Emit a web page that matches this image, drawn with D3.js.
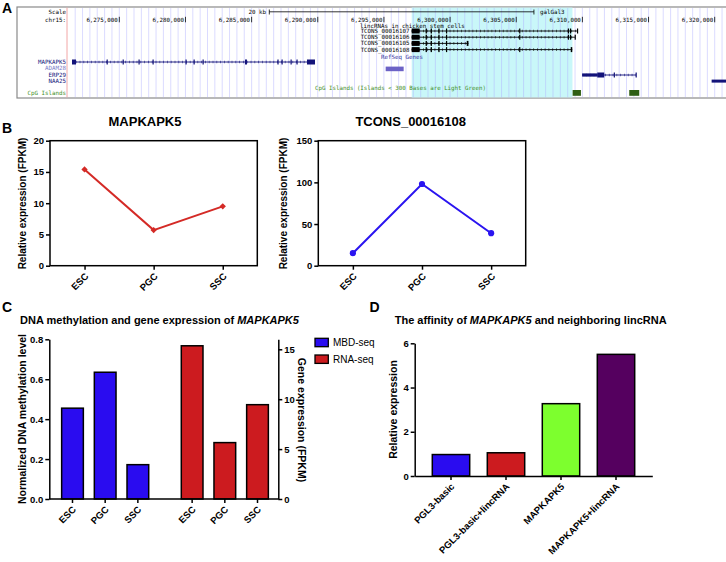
<!DOCTYPE html>
<html>
<head>
<meta charset="utf-8">
<script src="https://cdn.jsdelivr.net/npm/d3@7"></script>
<style>
body { margin: 0; background: #fff; }
svg { display: block; font-family: "Liberation Sans", Arial, sans-serif; }
.axis path, .axis line { stroke: #000; stroke-width: 1.5; }
.axis text { font-size: 9.5px; font-weight: bold; fill: #000; font-family: "Liberation Sans", Arial, sans-serif; }
.ucsc text { font-family: "DejaVu Sans Mono", monospace; font-size: 5.8px; }
.ylab { font-size: 10px; font-weight: bold; text-anchor: middle; }
.ttl { font-weight: bold; }
.letter { font-size: 14px; font-weight: bold; }
</style>
</head>
<body>
<svg id="fig" width="726" height="562"></svg>
<script>
// ---- Panel A: genome browser view (chr15, galGal3) ----
var chromTicks = [6275000, 6280000, 6285000, 6290000, 6295000, 6300000, 6305000, 6310000, 6315000, 6320000];
var highlightRegion = [6297100, 6309250];
var mapkapk5Span = [6271425, 6289790];
var mapkapk5Exons = [[6271425, 6271727], [6274040, 6274110], [6275250, 6275320], [6276450, 6276530],
    [6277510, 6277590], [6280000, 6280080], [6280610, 6280690], [6281290, 6281370], [6284500, 6284650],
    [6286950, 6287030], [6287260, 6287340], [6287940, 6288020], [6288390, 6288470], [6289185, 6289790]];
var lincNames = ["TCONS_00016107", "TCONS_00016106", "TCONS_00016105", "TCONS_00016108"];
var lincStart = 6297097;
var lincEnds = [6309611, 6309437, 6301389, 6309233];
var lincSharedExons = [[6297097, 6297701], [6298150, 6298250], [6298530, 6298630], [6299110, 6299210], [6299690, 6299730]];
var lincTailExons = [
    [[6305220, 6305290], [6308900, 6308980], [6309060, 6309140], [6309590, 6309611]],
    [[6305220, 6305290], [6308900, 6308980], [6309060, 6309140], [6309415, 6309437]],
    [[6301260, 6301389]],
    [[6305220, 6305290], [6309120, 6309233]]
];
var refBox = [6295132, 6296492];
var erp29Span = [6309990, 6314047];
var erp29Utr = [[6309990, 6311124]];
var erp29Cds = [[6311124, 6311652], [6312370, 6312440], [6314020, 6314047]];
var naa25Utr = [[6319768, 6321500]];
var cpgIslands = [[6309263, 6309891], [6313541, 6314296]];

// ---- Panel B: expression across stages ----
var stages = ["ESC", "PGC", "SSC"];
var mapkapk5Fpkm = [15.4, 5.7, 9.5];
var tconsFpkm = [15, 98, 39];

// ---- Panel C: methylation vs expression ----
var assays = ["MBD-seq", "RNA-seq"];
var methylation = [0.455, 0.635, 0.172];
var rnaSeqFpkm = [15.35, 5.65, 9.45];

// ---- Panel D: luciferase constructs ----
var constructs = ["PGL3-basic", "PGL3-basic+lincRNA", "MAPKAPK5", "MAPKAPK5+lincRNA"];
var relExpression = [0.97, 1.05, 3.27, 5.5];

var blue = "#2a0cf0", red = "#cc1b1f";
var constructColors = [blue, red, "#7dff2e", "#55005f"];

var svg = d3.select("#fig");

// ================= A =================
var gx = d3.scaleLinear().domain([6275000, 6320000]).range([119.3, 714.7]);
var A = svg.append("g").attr("class", "ucsc");

A.append("rect").attr("x", 17).attr("y", 7).attr("width", 715).attr("height", 91)
    .attr("fill", "#fff").attr("stroke", "#8a8a8a").attr("stroke-width", 1.2);

A.append("rect")
    .attr("x", gx(highlightRegion[0])).attr("y", 7.6)
    .attr("width", gx(highlightRegion[1]) - gx(highlightRegion[0])).attr("height", 89.8)
    .attr("fill", "#c9f7f9");

// light blue guide lines (9 per 5 kb)
var gStep = 5000 / 9;
var kLo = Math.ceil((gx.invert(68) - 6275000) / gStep);
var kHi = Math.floor((gx.invert(726) - 6275000) / gStep);
A.selectAll(".guide").data(d3.range(kLo, kHi + 1)).enter().append("line")
    .attr("x1", k => gx(6275000 + k * gStep)).attr("x2", k => gx(6275000 + k * gStep))
    .attr("y1", 8).attr("y2", 97.4)
    .attr("stroke", "#b0b0ff").attr("stroke-opacity", 0.45);

A.append("line").attr("x1", 67).attr("x2", 67).attr("y1", 7.6).attr("y2", 97.4)
    .attr("stroke", "#f2a6a6").attr("stroke-width", 1);

// scale bar row
var barX0 = gx(6275000) + 150, barX1 = barX0 + (gx(6295000) - gx(6275000));
A.append("text").attr("x", 66).attr("y", 14.3).attr("text-anchor", "end").text("Scale");
A.append("text").attr("x", 266).attr("y", 14.3).attr("text-anchor", "end").text("20 kb");
A.append("line").attr("x1", barX0).attr("x2", barX1)
    .attr("y1", 11.8).attr("y2", 11.8).attr("stroke", "#000").attr("stroke-width", 0.8);
[barX0, barX1].forEach(function(x) {
    A.append("line").attr("x1", x).attr("x2", x).attr("y1", 9.5).attr("y2", 14.5).attr("stroke", "#000").attr("stroke-width", 0.8);
});
A.append("text").attr("x", 540).attr("y", 14.3).text("galGal3");

// chromosome ruler
A.append("text").attr("x", 66).attr("y", 21.6).attr("text-anchor", "end").text("chr15:");
var tk = A.selectAll(".ctick").data(chromTicks).enter().append("g");
tk.append("text").attr("x", d => gx(d) - 1.5).attr("y", 21.6).attr("text-anchor", "end")
    .text(d => d3.format(",")(d));
tk.append("line").attr("x1", d => gx(d)).attr("x2", d => gx(d)).attr("y1", 16.8).attr("y2", 22.3)
    .attr("stroke", "#000").attr("stroke-width", 0.8);

A.append("text").attr("x", 360).attr("y", 28.3).text("lincRNAs in chicken stem cells");

function drawGene(y, span, thin, thick, color) {
    var g = A.append("g");
    g.append("line").attr("x1", gx(span[0])).attr("x2", gx(span[1])).attr("y1", y).attr("y2", y)
        .attr("stroke", color).attr("stroke-width", 0.9);
    g.append("line").attr("x1", gx(span[0])).attr("x2", gx(span[1])).attr("y1", y).attr("y2", y)
        .attr("stroke", color).attr("stroke-width", 2.6).attr("stroke-dasharray", "0.8,3").attr("stroke-opacity", 0.7);
    g.selectAll(".thin").data(thin).enter().append("rect")
        .attr("x", d => gx(d[0])).attr("width", d => Math.max(1, gx(d[1]) - gx(d[0])))
        .attr("y", y - 1.6).attr("height", 3.2).attr("fill", color);
    g.selectAll(".thick").data(thick).enter().append("rect")
        .attr("x", d => gx(d[0])).attr("width", d => Math.max(1.2, gx(d[1]) - gx(d[0])))
        .attr("y", y - 2.5).attr("height", 5).attr("fill", color);
}

var lincY = [31, 37.2, 43.4, 49.6];
lincNames.forEach(function(name, i) {
    A.append("text").attr("x", 409.5).attr("y", lincY[i] + 2).attr("text-anchor", "end").text(name);
    drawGene(lincY[i], [lincStart, lincEnds[i]], [], lincSharedExons.concat(lincTailExons[i]), "#000");
});

A.append("text").attr("x", 381).attr("y", 59.4).attr("fill", "#3434a0").text("RefSeq Genes");
A.append("rect").attr("x", gx(refBox[0])).attr("y", 66.6).attr("width", gx(refBox[1]) - gx(refBox[0]))
    .attr("height", 4.6).attr("fill", "#6c62c6");

var navy = "#13137a";
A.append("text").attr("x", 66).attr("y", 64.3).attr("text-anchor", "end").attr("fill", navy).text("MAPKAPK5");
A.append("text").attr("x", 66).attr("y", 70.4).attr("text-anchor", "end").attr("fill", "#7a7ac8").text("ADAM28");
A.append("text").attr("x", 66).attr("y", 77).attr("text-anchor", "end").attr("fill", navy).text("ERP29");
A.append("text").attr("x", 66).attr("y", 83.2).attr("text-anchor", "end").attr("fill", navy).text("NAA25");
A.append("text").attr("x", 66).attr("y", 95.3).attr("text-anchor", "end").attr("fill", "#3f8f1f").text("CpG Islands");

drawGene(62, mapkapk5Span, [], mapkapk5Exons, navy);
drawGene(75, erp29Span, erp29Utr, erp29Cds, navy);
A.selectAll(".naa").data(naa25Utr).enter().append("rect")
    .attr("x", d => gx(d[0])).attr("width", d => gx(d[1]) - gx(d[0]))
    .attr("y", 79.6).attr("height", 3).attr("fill", navy);

A.append("text").attr("x", 315).attr("y", 89.8).attr("fill", "#3f8f1f")
    .text("CpG Islands (Islands < 300 Bases are Light Green)");
A.selectAll(".cpg").data(cpgIslands).enter().append("rect")
    .attr("x", d => gx(d[0])).attr("width", d => gx(d[1]) - gx(d[0]))
    .attr("y", 90).attr("height", 5.8).attr("fill", "#2f5f14");

// ================= B =================
function linePanel(x0, x1, yMax, ticks, values, color, diamond, title, titleX, labX) {
    var x = d3.scalePoint().domain(stages).range([x0, x1]).padding(0.5);
    var y = d3.scaleLinear().domain([0, yMax]).range([265.7, 140.7]);
    var g = svg.append("g");

    g.append("g").attr("class", "axis").attr("transform", `translate(${x0},0)`)
        .call(d3.axisLeft(y).tickValues(ticks).tickFormat(d3.format("d")).tickSize(4).tickSizeOuter(0).tickPadding(2))
        .select(".domain").remove();

    var bx = g.append("g").attr("class", "axis").attr("transform", "translate(0,265.7)")
        .call(d3.axisBottom(x).tickSize(4).tickSizeOuter(0));
    bx.select(".domain").remove();
    bx.selectAll("text").attr("transform", "rotate(-45)").attr("text-anchor", "end")
        .attr("x", -5).attr("y", 7.5).attr("dy", "0.35em");

    g.append("rect").attr("x", x0).attr("y", 140.7).attr("width", x1 - x0).attr("height", 125)
        .attr("fill", "none").attr("stroke", "#000").attr("stroke-width", 1.5);

    g.append("path").datum(values)
        .attr("d", d3.line().x((d, i) => x(stages[i])).y(d => y(d)))
        .attr("fill", "none").attr("stroke", color).attr("stroke-width", 2);

    g.selectAll(".pt").data(values).enter().append("path")
        .attr("transform", (d, i) => `translate(${x(stages[i])},${y(d)})` + (diamond ? " rotate(45)" : ""))
        .attr("d", d3.symbol().type(diamond ? d3.symbolSquare : d3.symbolCircle).size(diamond ? 20 : 30))
        .attr("fill", color);

    g.append("text").attr("class", "ttl").attr("x", titleX).attr("y", 126)
        .attr("text-anchor", "middle").style("font-size", "13px").text(title);

    g.append("text").attr("class", "ylab")
        .attr("transform", `translate(${labX},203.5) rotate(-90)`).text("Relative expression (FPKM)");
}

linePanel(50, 257.3, 20, [0, 5, 10, 15, 20], mapkapk5Fpkm, "#d42a26", true, "MAPKAPK5", 145, 26.3);
linePanel(318.3, 525.7, 150, [0, 50, 100, 150], tconsFpkm, "#2a14f0", false, "TCONS_00016108", 410.7, 287);

// ================= C =================
var cLeft = 49.3, cRight = 278.3, cBottom = 499, cTop = 339.3;
var yL = d3.scaleLinear().domain([0, 0.8]).range([cBottom, cTop]);
var yR = d3.scaleLinear().domain([0, 16]).range([cBottom, cTop]);
var xg = d3.scaleBand().domain(assays).range([cLeft + 1.2, cRight + 1.2]).paddingInner(0.086).paddingOuter(0);
var xs = d3.scaleBand().domain(stages).range([0, xg.bandwidth()]).paddingInner(0.336).paddingOuter(0.341);

var C = svg.append("g");
var cBars = [
    {assay: "MBD-seq", vals: methylation, y: yL, color: blue},
    {assay: "RNA-seq", vals: rnaSeqFpkm, y: yR, color: red}
];
var cTicks = [];
cBars.forEach(function(grp) {
    grp.vals.forEach(function(v, i) {
        var xb = xg(grp.assay) + xs(stages[i]);
        C.append("rect").attr("x", xb).attr("width", xs.bandwidth())
            .attr("y", grp.y(v)).attr("height", cBottom - grp.y(v))
            .attr("fill", grp.color).attr("stroke", "#000").attr("stroke-width", 1.5);
        cTicks.push({x: xb + xs.bandwidth() / 2, label: stages[i]});
    });
});

C.append("g").attr("class", "axis").attr("transform", `translate(${cLeft},0)`)
    .call(d3.axisLeft(yL).tickValues([0, 0.2, 0.4, 0.6, 0.8]).tickFormat(d3.format(".1f")).tickSize(4).tickSizeOuter(0).tickPadding(2));
C.append("g").attr("class", "axis").attr("transform", `translate(${cRight},0)`)
    .call(d3.axisRight(yR).tickValues([0, 5, 10, 15]).tickFormat(d3.format("d")).tickSize(4).tickSizeOuter(0).tickPadding(2));

var cx = C.append("g").attr("class", "axis");
cx.append("line").attr("x1", cLeft).attr("x2", cRight).attr("y1", cBottom).attr("y2", cBottom);
var ct = cx.selectAll(".tk").data(cTicks).enter().append("g")
    .attr("transform", d => `translate(${d.x},${cBottom})`);
ct.append("line").attr("y2", 4);
ct.append("text").attr("transform", "rotate(-45)").attr("text-anchor", "end")
    .attr("x", -5).attr("y", 7.5).attr("dy", "0.35em").text(d => d.label);

var ct1 = C.append("text").attr("class", "ttl").attr("x", 20).attr("y", 323.5).style("font-size", "11px");
ct1.append("tspan").text("DNA methylation and gene expression of ");
ct1.append("tspan").style("font-style", "italic").text("MAPKAPK5");

C.append("text").attr("class", "ylab").style("font-size", "10.5px")
    .attr("transform", `translate(26.2,419) rotate(-90)`).text("Normalized DNA methylation level");
C.append("text").attr("class", "ylab").style("font-size", "10.5px")
    .attr("transform", `translate(298,420) rotate(90)`).text("Gene expression (FPKM)");

var lg = C.selectAll(".lg").data(cBars).enter().append("g")
    .attr("transform", (d, i) => `translate(315,${338.3 + i * 16.7})`);
lg.append("rect").attr("width", 13.3).attr("height", 8.4)
    .attr("fill", d => d.color).attr("stroke", "#000").attr("stroke-width", 1.3);
lg.append("text").attr("x", 18).attr("y", 8).style("font-size", "10px").text(d => d.assay);

// ================= D =================
var xD = d3.scaleBand().domain(constructs).range([414.7, 652.3]).paddingInner(0.32).paddingOuter(0.32);
var yD = d3.scaleLinear().domain([0, 6]).range([476, 343.3]);
var D = svg.append("g");

D.selectAll(".bar").data(relExpression).enter().append("rect")
    .attr("x", (d, i) => xD(constructs[i])).attr("width", xD.bandwidth())
    .attr("y", d => yD(d)).attr("height", d => 476 - yD(d))
    .attr("fill", (d, i) => constructColors[i]).attr("stroke", "#000").attr("stroke-width", 1.5);

D.append("g").attr("class", "axis").attr("transform", "translate(414.7,0)")
    .call(d3.axisLeft(yD).tickValues([0, 2, 4, 6]).tickFormat(d3.format("d")).tickSize(4).tickSizeOuter(0).tickPadding(2));
var dx = D.append("g").attr("class", "axis").attr("transform", "translate(0,476)")
    .call(d3.axisBottom(xD).tickSize(4).tickSizeOuter(0));
dx.selectAll("text").attr("transform", "rotate(-45)").attr("text-anchor", "end")
    .attr("x", -5).attr("y", 7.5).attr("dy", "0.35em");

var dt = D.append("text").attr("class", "ttl").attr("x", 394.7).attr("y", 323.5).style("font-size", "11px");
dt.append("tspan").text("The affinity of ");
dt.append("tspan").style("font-style", "italic").text("MAPKAPK5");
dt.append("tspan").text(" and neighboring lincRNA");

D.append("text").attr("class", "ylab").style("font-size", "10.5px")
    .attr("transform", `translate(397.3,409.5) rotate(-90)`).text("Relative expression");

// panel letters
[["A", 2, 13], ["B", 2, 133], ["C", 2, 311.5], ["D", 369.5, 311.5]].forEach(function(l) {
    svg.append("text").attr("class", "letter").attr("x", l[1]).attr("y", l[2]).text(l[0]);
});
</script>
</body>
</html>
